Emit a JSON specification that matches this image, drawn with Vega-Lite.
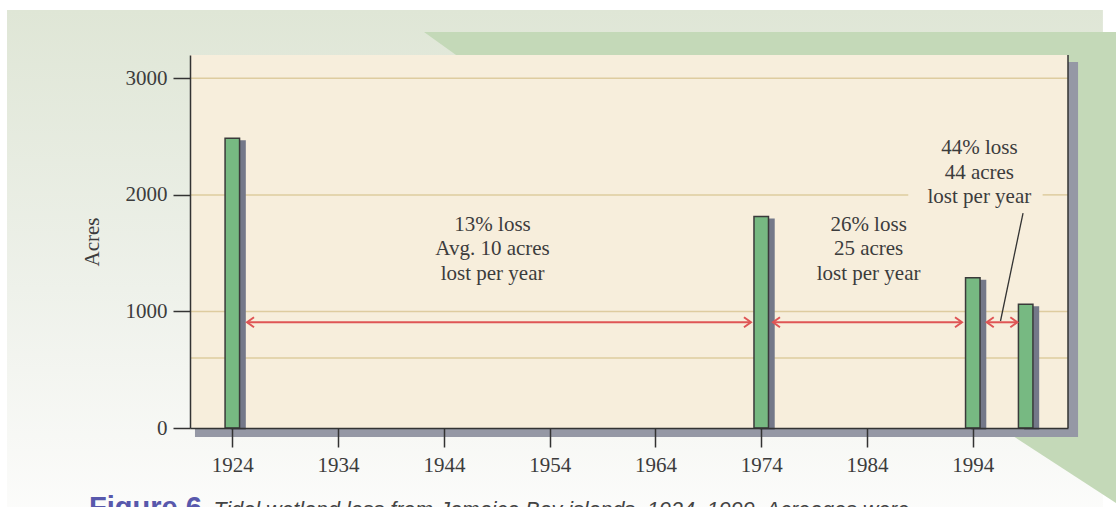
{
  "$schema": "https://vega.github.io/schema/vega-lite/v6.json",
  "width": 878,
  "height": 373,
  "autosize": {"type": "none"},
  "padding": {"left": 190, "top": 55, "right": 48, "bottom": 79},
  "background": "#ffffff",
  "view": {"stroke": null},
  "config": {
    "font": "Liberation Serif",
    "scale": {"continuousPadding": 0},
    "axis": {"grid": false, "labelFont": "Liberation Serif", "labelFontSize": 21, "labelColor": "#3c3c3c", "titleFont": "Liberation Serif", "titleFontWeight": "normal", "titleFontSize": 21, "titleColor": "#3c3c3c", "domainColor": "#333333", "domainWidth": 1.5, "tickColor": "#333333", "tickWidth": 1.5}
  },
  "title": {
    "text": "Figure 6",
    "orient": "bottom",
    "anchor": "start",
    "frame": "group",
    "baseline": "alphabetic",
    "dx": -101,
    "offset": -4,
    "font": "Liberation Sans",
    "fontSize": 29,
    "fontWeight": "bold",
    "color": "#5858ac"
  },
  "datasets": {
    "one": [{}],
    "backdrop": [
      {"x": 1942.12, "top": 3397, "bottom": 3397},
      {"x": 1945.15, "top": 3397, "bottom": 3200},
      {"x": 1997.8, "top": 3397, "bottom": -69},
      {"x": 2007.6, "top": 3397, "bottom": -648}
    ],
    "bars": [
      {"year": 1924, "acres": 2485},
      {"year": 1974, "acres": 1815},
      {"year": 1994, "acres": 1290},
      {"year": 1999, "acres": 1062}
    ],
    "grid": [
      {"v": 600, "from": 1920, "to": 2003},
      {"v": 1000, "from": 1920, "to": 2003},
      {"v": 2000, "from": 1920, "to": 1987.9},
      {"v": 2000, "from": 2000.6, "to": 2003},
      {"v": 3000, "from": 1920, "to": 2003}
    ],
    "arrows": [
      {"from": 1925.39, "to": 1973.03, "v": 907},
      {"from": 1975.11, "to": 1992.98, "v": 907},
      {"from": 1995.32, "to": 1998.21, "v": 907}
    ],
    "leader": [
      {"x1": 1998.75, "v1": 1844, "x2": 1996.62, "v2": 918}
    ],
    "labels": [
      {"x": 1948.6, "v": 1692, "text": "13% loss\nAvg. 10 acres\nlost per year"},
      {"x": 1984.15, "v": 1692, "text": "26% loss\n25 acres\nlost per year"},
      {"x": 1994.62, "v": 2348, "text": "44% loss\n44 acres\nlost per year"}
    ]
  },
  "layer": [
    {
      "data": {"name": "one"},
      "mark": {"type": "rect", "clip": false, "color": {"gradient": "linear", "x1": 0, "y1": 0, "x2": 0, "y2": 1, "stops": [{"offset": 0, "color": "#dfe6d6"}, {"offset": 0.55, "color": "#eef1ea"}, {"offset": 1, "color": "#fcfcfb"}]}},
      "encoding": {
        "x": {"datum": 1902.7, "type": "quantitative", "scale": {"domain": [1920, 2003], "nice": false, "zero": false, "padding": 0},
          "axis": {"zindex": 1, "values": [1924, 1934, 1944, 1954, 1964, 1974, 1984, 1994], "format": "d", "tickSize": 19, "labelPadding": 7,
            "title": "Tidal wetland loss from Jamaica Bay islands, 1924–1999. Acreages were",
            "titleFont": "Liberation Sans", "titleFontStyle": "italic", "titleFontSize": 21.5, "titleColor": "#444444",
            "titleAlign": "left", "titleAnchor": "start", "titleX": 23, "titleY": 88, "titleBaseline": "alphabetic"}},
        "x2": {"datum": 2006.3},
        "y": {"datum": 3586, "type": "quantitative", "scale": {"domain": [0, 3200], "nice": false, "zero": false, "padding": 0},
          "axis": {"zindex": 1, "values": [0, 1000, 2000, 3000], "format": "d", "tickSize": 17, "labelPadding": 6, "title": "Acres", "titlePadding": 23}},
        "y2": {"datum": -760}
      }
    },
    {
      "data": {"name": "backdrop"},
      "mark": {"type": "area", "clip": false, "color": "#c4d9b8", "opacity": 1},
      "encoding": {
        "x": {"field": "x", "type": "quantitative", "scale": {"domain": [1920, 2003], "nice": false, "zero": false, "padding": 0}},
        "y": {"field": "top", "type": "quantitative", "stack": null, "scale": {"domain": [0, 3200], "nice": false, "zero": false, "padding": 0}},
        "y2": {"field": "bottom"}
      }
    },
    {
      "data": {"name": "one"},
      "mark": {"type": "rect", "clip": false, "color": "#9598a5"},
      "encoding": {
        "x": {"datum": 1920.47, "type": "quantitative", "scale": {"domain": [1920, 2003], "nice": false, "zero": false, "padding": 0}},
        "x2": {"datum": 2003.95},
        "y": {"datum": 3140, "type": "quantitative", "scale": {"domain": [0, 3200], "nice": false, "zero": false, "padding": 0}},
        "y2": {"datum": -77}
      }
    },
    {
      "data": {"name": "one"},
      "mark": {"type": "rect", "clip": false, "color": "#f7eedc"},
      "encoding": {
        "x": {"datum": 1920, "type": "quantitative", "scale": {"domain": [1920, 2003], "nice": false, "zero": false, "padding": 0}},
        "x2": {"datum": 2003},
        "y": {"datum": 3200, "type": "quantitative", "scale": {"domain": [0, 3200], "nice": false, "zero": false, "padding": 0}},
        "y2": {"datum": 0}
      }
    },
    {
      "data": {"name": "grid"},
      "mark": {"type": "rule", "color": "#decc9f", "strokeWidth": 1.5},
      "encoding": {
        "x": {"field": "from", "type": "quantitative", "scale": {"domain": [1920, 2003], "nice": false, "zero": false, "padding": 0}},
        "x2": {"field": "to"},
        "y": {"field": "v", "type": "quantitative", "scale": {"domain": [0, 3200], "nice": false, "zero": false, "padding": 0}}
      }
    },
    {
      "data": {"name": "bars"},
      "mark": {"type": "bar", "orient": "vertical", "width": 15, "color": "#747889", "xOffset": 6, "yOffset": 2},
      "encoding": {
        "x": {"field": "year", "type": "quantitative", "scale": {"domain": [1920, 2003], "nice": false, "zero": false, "padding": 0}},
        "y": {"field": "acres", "type": "quantitative", "scale": {"domain": [0, 3200], "nice": false, "zero": false, "padding": 0}}
      }
    },
    {
      "data": {"name": "bars"},
      "mark": {"type": "bar", "orient": "vertical", "width": 14.5, "color": "#77b982", "stroke": "#3a3a3a", "strokeWidth": 1.5},
      "encoding": {
        "x": {"field": "year", "type": "quantitative", "scale": {"domain": [1920, 2003], "nice": false, "zero": false, "padding": 0}},
        "y": {"field": "acres", "type": "quantitative", "scale": {"domain": [0, 3200], "nice": false, "zero": false, "padding": 0}}
      }
    },
    {
      "data": {"name": "arrows"},
      "mark": {"type": "rule", "color": "#df5555", "strokeWidth": 2},
      "encoding": {
        "x": {"field": "from", "type": "quantitative", "scale": {"domain": [1920, 2003], "nice": false, "zero": false, "padding": 0}},
        "x2": {"field": "to"},
        "y": {"field": "v", "type": "quantitative", "scale": {"domain": [0, 3200], "nice": false, "zero": false, "padding": 0}}
      }
    },
    {
      "data": {"name": "arrows"},
      "transform": [{"fold": ["from", "to"], "as": ["end", "pos"]}],
      "mark": {"type": "point", "filled": false, "stroke": "#df5555", "strokeWidth": 2, "size": 100, "opacity": 1},
      "encoding": {
        "x": {"field": "pos", "type": "quantitative", "scale": {"domain": [1920, 2003], "nice": false, "zero": false, "padding": 0}},
        "y": {"field": "v", "type": "quantitative", "scale": {"domain": [0, 3200], "nice": false, "zero": false, "padding": 0}},
        "shape": {"field": "end", "type": "nominal", "legend": null, "scale": {"domain": ["from", "to"], "range": ["M1.4,-1L0,0L1.4,1", "M-1.4,-1L0,0L-1.4,1"]}}
      }
    },
    {
      "data": {"name": "leader"},
      "mark": {"type": "rule", "color": "#333333", "strokeWidth": 1.3},
      "encoding": {
        "x": {"field": "x1", "type": "quantitative", "scale": {"domain": [1920, 2003], "nice": false, "zero": false, "padding": 0}},
        "x2": {"field": "x2"},
        "y": {"field": "v1", "type": "quantitative", "scale": {"domain": [0, 3200], "nice": false, "zero": false, "padding": 0}},
        "y2": {"field": "v2"}
      }
    },
    {
      "data": {"name": "labels"},
      "mark": {"type": "text", "font": "Liberation Serif", "fontSize": 21, "color": "#3c3c3c", "align": "center", "baseline": "alphabetic", "lineBreak": "\n", "lineHeight": 24.5},
      "encoding": {
        "x": {"field": "x", "type": "quantitative", "scale": {"domain": [1920, 2003], "nice": false, "zero": false, "padding": 0}},
        "y": {"field": "v", "type": "quantitative", "scale": {"domain": [0, 3200], "nice": false, "zero": false, "padding": 0}},
        "text": {"field": "text"}
      }
    },
    {
      "data": {"name": "one"},
      "mark": {"type": "rule", "color": "#333333", "strokeWidth": 1.5},
      "encoding": {
        "x": {"datum": 2003, "type": "quantitative", "scale": {"domain": [1920, 2003], "nice": false, "zero": false, "padding": 0}},
        "y": {"datum": 0, "type": "quantitative", "scale": {"domain": [0, 3200], "nice": false, "zero": false, "padding": 0}},
        "y2": {"datum": 3200}
      }
    }
  ]
}
